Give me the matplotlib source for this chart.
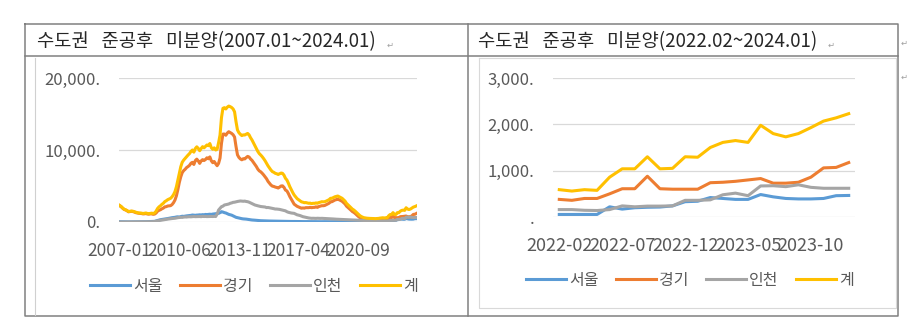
import pandas as pd
import matplotlib
matplotlib.use('Agg')
import matplotlib.pyplot as plt

plt.rcParams['font.family'] = ['Noto Sans CJK KR', 'DejaVu Sans']

series_names = ['서울', '경기', '인천', '계']
colors = ['#5B9BD5', '#ED7D31', '#A5A5A5', '#FFC000']

# 2007-01 ~ 2022-01 (monthly)
seoul_hist = [
    40, 35, 30, 30, 25, 25, 20, 25, 30, 30, 25, 30,
    30, 25, 30, 35, 30, 40, 45, 50, 40, 45, 60, 70,
    90, 150, 220, 280, 320, 350, 370, 400, 450, 480, 520, 560,
    600, 620, 650, 700, 720, 680, 750, 800, 780, 820, 850, 880,
    900, 920, 970, 950, 930, 960, 970, 1000, 980, 1020, 1000, 1050,
    1030, 1060, 1080, 1050, 1100, 1120, 1150, 1180, 1200, 1300, 1430, 1380,
    1300, 1250, 1150, 1060, 1000, 950, 850, 750, 650, 600, 550, 500,
    460, 430, 420, 400, 370, 330, 300, 280, 270, 250, 230, 210,
    200, 180, 170, 160, 150, 145, 140, 135, 130, 120, 115, 110,
    105, 100, 100, 95, 90, 90, 85, 80, 85, 80, 75, 80,
    75, 70, 70, 65, 60, 65, 60, 55, 60, 55, 50, 55,
    50, 55, 50, 45, 50, 45, 40, 45, 40, 45, 40, 40,
    45, 40, 50, 45, 50, 55, 50, 45, 50, 55, 60, 55,
    60, 55, 50, 55, 60, 55, 50, 55, 50, 45, 50, 55,
    55, 60, 55, 50, 55, 60, 55, 50, 55, 60, 55, 55,
    55,
]
gyeonggi_hist = [
    2260, 2115, 1920, 1750, 1670, 1570, 1420, 1445, 1480, 1455, 1390, 1300,
    1250, 1215, 1195, 1175, 1125, 1140, 1180, 1110, 1085, 1125, 1130, 1065,
    1100, 1250, 1500, 1620, 1700, 1830, 1930, 2100, 2130, 2220, 2250, 2270,
    2420, 2680, 3050, 3640, 4510, 5500, 6280, 6860, 7140, 7320, 7560, 7700,
    7870, 8160, 8290, 7990, 8530, 8730, 8490, 8140, 8480, 8660, 8540, 8680,
    8920, 8780, 9040, 8500, 8240, 8400, 8090, 7820, 8140, 8880, 10940, 12210,
    12220, 12050, 12350, 12540, 12420, 12300, 12120, 11800, 10480, 9330, 8970, 8760,
    8640, 8790, 8760, 8950, 9110, 9020, 8750, 8560, 8280, 7990, 7700, 7340,
    7100, 6970, 6770, 6540, 6270, 6005, 5640, 5385, 5140, 4980, 4935, 4850,
    4795, 4720, 4850, 5005, 5020, 4810, 4435, 4320, 3965, 3530, 3175, 2800,
    2475, 2330, 2180, 2085, 2000, 1915, 1950, 1925, 1990, 1995, 1990, 2035,
    1990, 2025, 2030, 2105, 2030, 2145, 2210, 2265, 2260, 2295, 2390, 2500,
    2605, 2810, 2820, 2935, 3050, 3105, 3180, 3085, 2980, 2875, 2690, 2505,
    2200, 2025, 1850, 1655, 1460, 1335, 1180, 985, 800, 635, 500, 405,
    335, 300, 285, 270, 260, 250, 250, 250, 245, 255, 285, 325,
    350,
]
incheon_hist = [
    0, 0, 0, 0, 5, 5, 10, 10, 10, 15, 15, 20,
    20, 20, 25, 20, 25, 30, 25, 30, 35, 30, 40, 45,
    60, 100, 150, 200, 230, 270, 300, 330, 370, 400, 430, 460,
    480, 500, 520, 560, 600, 620, 650, 640, 680, 700, 690, 720,
    730, 720, 740, 760, 740, 750, 770, 760, 740, 780, 760, 770,
    750, 760, 780, 770, 760, 780, 760, 1100, 1660, 1900, 2130, 2200,
    2360, 2400, 2450, 2500, 2600, 2650, 2730, 2750, 2800, 2850, 2880, 2920,
    2900, 2880, 2900, 2850, 2820, 2750, 2650, 2550, 2450, 2360, 2300, 2250,
    2200, 2150, 2130, 2100, 2080, 2000, 2020, 1980, 1950, 1900, 1850, 1800,
    1800, 1780, 1750, 1700, 1650, 1600, 1550, 1430, 1350, 1300, 1250, 1220,
    1200, 1100, 1000, 950, 900, 820, 740, 700, 650, 600, 560, 530,
    510, 520, 510, 500, 520, 510, 500, 510, 500, 480, 470, 460,
    450, 440, 430, 420, 400, 390, 380, 370, 370, 360, 350, 340,
    330, 320, 300, 290, 280, 280, 270, 260, 250, 240, 230, 220,
    210, 200, 190, 190, 185, 180, 175, 170, 170, 165, 160, 160,
    155,
]
total_hist = [
    2300, 2150, 1950, 1780, 1700, 1600, 1450, 1480, 1520, 1500, 1430, 1350,
    1300, 1260, 1250, 1230, 1180, 1210, 1250, 1190, 1160, 1200, 1230, 1180,
    1250, 1500, 1870, 2100, 2250, 2450, 2600, 2830, 2950, 3100, 3200, 3290,
    3500, 3800, 4220, 4900, 5830, 6800, 7680, 8300, 8600, 8840, 9100, 9300,
    9500, 9800, 10000, 9700, 10200, 10440, 10230, 9900, 10200, 10460, 10300, 10500,
    10700, 10600, 10900, 10320, 10100, 10300, 10000, 10100, 11000, 12080, 14500, 15790,
    15880, 15700, 15950, 16100, 16020, 15900, 15700, 15300, 13930, 12780, 12400, 12180,
    12000, 12100, 12080, 12200, 12300, 12100, 11700, 11390, 11000, 10600, 10230, 9800,
    9500, 9300, 9070, 8800, 8500, 8150, 7800, 7500, 7220, 7000, 6900, 6760,
    6700, 6600, 6700, 6800, 6760, 6500, 6070, 5830, 5400, 4910, 4500, 4100,
    3750, 3500, 3250, 3100, 2960, 2800, 2750, 2680, 2700, 2650, 2600, 2620,
    2550, 2600, 2590, 2650, 2600, 2700, 2750, 2820, 2800, 2820, 2900, 3000,
    3100, 3290, 3300, 3400, 3500, 3550, 3610, 3500, 3400, 3290, 3100, 2900,
    2590, 2400, 2200, 2000, 1800, 1670, 1500, 1300, 1100, 920, 780, 680,
    600, 560, 530, 510, 500, 490, 480, 470, 470, 480, 500, 540,
    560,
]

# 2022-02 ~ 2024-01 (monthly)
seoul_recent = [55, 55, 55, 55, 220, 170, 200, 210, 215, 240, 330, 340,
                420, 400, 380, 380, 485, 435, 400, 390, 390, 400, 460, 465]
gyeonggi_recent = [380, 360, 400, 400, 500, 610, 610, 880, 610, 600, 600, 600,
                   740, 750, 770, 800, 830, 730, 730, 750, 860, 1060, 1070, 1175]
incheon_recent = [160, 160, 145, 140, 160, 240, 220, 235, 235, 240, 360, 360,
                  370, 480, 515, 460, 670, 675, 655, 695, 640, 620, 620, 620]
total_recent = [590, 560, 590, 575, 860, 1040, 1040, 1300, 1040, 1050, 1300, 1290,
                1500, 1610, 1650, 1610, 1980, 1800, 1730, 1800, 1930, 2070, 2140, 2230]

months_long = pd.period_range('2007-01', '2024-01', freq='M').strftime('%Y-%m').tolist()
months_short = pd.period_range('2022-02', '2024-01', freq='M').strftime('%Y-%m').tolist()
ticks_long = ['2007-01', '2010-06', '2013-11', '2017-04', '2020-09']
ticks_short = ['2022-02', '2022-07', '2022-12', '2023-05', '2023-10']
yticks_long = [0, 10000, 20000]
ylabels_long = ['0.', '10,000.', '20,000.']
yticks_short = [0, 1000, 2000, 3000]
ylabels_short = ['.', '1,000.', '2,000.', '3,000.']

long_data = [seoul_hist + seoul_recent, gyeonggi_hist + gyeonggi_recent,
             incheon_hist + incheon_recent, total_hist + total_recent]
short_data = [seoul_recent, gyeonggi_recent, incheon_recent, total_recent]

W, H = 921, 331
fig = plt.figure(figsize=(W / 100, H / 100), dpi=100)
fig.patch.set_facecolor('white')


def box(l, t, r, b):
    return [l / W, 1 - b / H, (r - l) / W, (b - t) / H]


# table frame and titles
bg = fig.add_axes([0, 0, 1, 1])
bg.set_xlim(0, W)
bg.set_ylim(H, 0)
bg.axis('off')
frame_c = '#808080'
bg.plot([25, 898, 898, 25, 25], [24, 24, 316, 316, 24], color=frame_c, lw=1.1)
bg.plot([25, 898], [56, 56], color=frame_c, lw=1.1)
bg.plot([468, 468], [24, 316], color=frame_c, lw=1.1)
bg.plot([35, 35], [58, 315], color='#d0d0d0', lw=0.8)
bg.plot([479, 896, 896, 479, 479], [58, 58, 308, 308, 58], color='#d9d9d9', lw=0.8)

bg.text(37, 42, '수도권   준공후   미분양(2007.01~2024.01)', fontsize=13.5,
        va='center', ha='left', color='#262626')
bg.text(478, 42, '수도권   준공후   미분양(2022.02~2024.01)', fontsize=13.5,
        va='center', ha='left', color='#262626')
for x, y in [(390, 45), (831, 45), (904, 43), (904, 77)]:
    bg.text(x, y, '↵', fontsize=6, color='#a0a0a0', va='center', ha='center',
            family='DejaVu Sans')


def draw(ax, data, months, ticks, yticks, ylabels, top, xfs):
    x = range(len(months))
    for vals, name, c in zip(data, series_names, colors):
        ax.plot(x, vals, color=c, lw=2.2, label=name, solid_joinstyle='round')
    ax.set_xlim(-0.5, len(months) - 0.5)
    ax.set_ylim(0, top)
    ax.set_xticks([months.index(t) for t in ticks])
    ax.set_xticklabels(ticks, fontsize=xfs, color='#595959')
    ax.set_yticks(yticks)
    ax.set_yticklabels(ylabels, fontsize=12, color='#595959')
    ax.tick_params(length=0)
    ax.tick_params(axis='x', pad=14.5)
    ax.tick_params(axis='y', pad=13.5)
    ax.grid(axis='y', color='#d9d9d9', lw=0.9)
    ax.set_axisbelow(True)
    for s in ax.spines.values():
        s.set_visible(False)
    ax.patch.set_alpha(0)


axL = fig.add_axes(box(119, 78, 417, 222))
draw(axL, long_data, months_long, ticks_long, yticks_long, ylabels_long, 20000, 12.5)
axR = fig.add_axes(box(553, 78, 855, 217))
draw(axR, short_data, months_short, ticks_short, yticks_short, ylabels_short, 3000, 13)

for ax, cx, cy in [(axL, 254, 286), (axR, 690, 280)]:
    ax.legend(ncol=4, loc='center', bbox_to_anchor=(cx / W, 1 - cy / H),
              bbox_transform=fig.transFigure, frameon=False, fontsize=11.5,
              labelcolor='#595959', handlelength=2.5, handletextpad=0.2,
              columnspacing=1.1, borderpad=0)

fig.savefig('out.png', dpi=100, facecolor='white')
